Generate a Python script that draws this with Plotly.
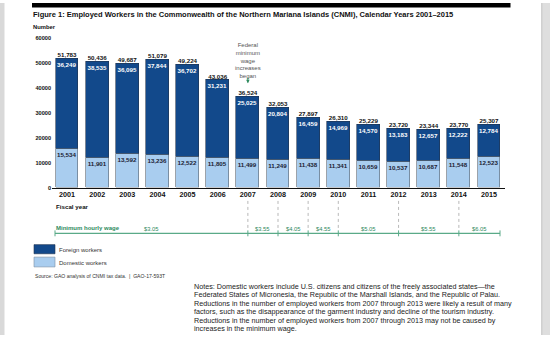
import plotly.graph_objects as go

# ---------------- data ----------------
years = [2001, 2002, 2003, 2004, 2005, 2006, 2007, 2008, 2009, 2010, 2011, 2012, 2013, 2014, 2015]
foreign = [36249, 38535, 36095, 37844, 36702, 31231, 25025, 20804, 16459, 14969, 14570, 13183, 12657, 12222, 12784]
domestic = [15534, 11901, 13592, 13236, 12522, 11805, 11499, 11249, 11438, 11341, 10659, 10537, 10687, 11548, 12523]
totals = [51783, 50436, 49687, 51079, 49224, 43036, 36524, 32053, 27897, 26310, 25229, 23720, 23344, 23770, 25307]
y_ticks = [0, 10000, 20000, 30000, 40000, 50000, 60000]
wage_change_years = [2007, 2008, 2009, 2010, 2012, 2014]
wage_labels = ["$3.05", "$3.55", "$4.05", "$4.55", "$5.05", "$5.55", "$6.05"]
increase_year = 2007

title = "Figure 1: Employed Workers in the Commonwealth of the Northern Mariana Islands (CNMI), Calendar Years 2001\u20132015"
notes_lines = [
    "Notes: Domestic workers include U.S. citizens and citizens of the freely associated states\u2014the",
    "Federated States of Micronesia, the Republic of the Marshall Islands, and the Republic of Palau.",
    "Reductions in the number of employed workers from 2007 through 2013 were likely a result of many",
    "factors, such as the disappearance of the garment industry and decline of the tourism industry.",
    "Reductions in the number of employed workers from 2007 through 2013 may not be caused by",
    "increases in the minimum wage.",
]
source_text = "Source: GAO analysis of CNMI tax data.  |  GAO-17-593T"

# ---------------- style ----------------
W, H = 550, 338
FONT = "Liberation Sans, Arial, sans-serif"
DARK = "#12498b"
LIGHT = "#a9cdef"
GREEN_TXT = "#2e8a5e"
GREEN_LINE = "#5aaa88"


def px(x):
    return x / W


def py(y):
    return 1 - y / H


X0_PX, X1_PX = 52, 505
FIRST_PX, LAST_PX = 67, 489
slope = (LAST_PX - FIRST_PX) / (years[-1] - years[0])
xr0 = years[0] - (FIRST_PX - X0_PX) / slope
xr1 = years[-1] + (X1_PX - LAST_PX) / slope
Y0_PX, Y1_PX = 188, 35.3

fig = go.Figure()
fig.add_trace(go.Bar(
    x=years, y=domestic, name="Domestic workers", width=0.76,
    marker=dict(color=LIGHT, line=dict(color="#5a6470", width=0.6)),
    text=[f"<b>{v:,}</b>" for v in domestic], textposition="inside",
    insidetextanchor="end", textangle=0, constraintext="none",
    textfont=dict(family=FONT, size=6.2, color="#1b2233"),
))
fig.add_trace(go.Bar(
    x=years, y=foreign, name="Foreign workers", width=0.76,
    marker=dict(color=DARK, line=dict(color="#22344f", width=0.6)),
    text=[f"<b>{v:,}</b>" for v in foreign], textposition="inside",
    insidetextanchor="end", textangle=0, constraintext="none",
    textfont=dict(family=FONT, size=6.2, color="white"),
))
fig.add_trace(go.Scatter(
    x=years, y=totals, mode="text",
    text=[f"<b>{v:,}</b>" for v in totals], textposition="top center",
    textfont=dict(family=FONT, size=6.2, color="#111"), cliponaxis=False,
    hoverinfo="skip",
))

ann = []
shapes = []


def text(x, y, s, size, color="#111", xanchor="left", bold=False):
    ann.append(dict(
        x=px(x), y=py(y), xref="paper", yref="paper", showarrow=False,
        text=(f"<b>{s}</b>" if bold else s), xanchor=xanchor, yanchor="middle",
        borderpad=0, font=dict(family=FONT, size=size, color=color),
    ))


# frame of the document screenshot
shapes.append(dict(type="rect", xref="paper", yref="paper", x0=0, x1=px(4.5), y0=0, y1=1,
                   fillcolor="#d9d9d9", line=dict(width=0), layer="below"))
shapes.append(dict(type="rect", xref="paper", yref="paper", x0=px(541.5), x1=1, y0=0, y1=1,
                   fillcolor="#dedede", line=dict(width=0), layer="below"))
shapes.append(dict(type="line", xref="paper", yref="paper", x0=px(541.8), x1=px(541.8), y0=0, y1=1,
                   line=dict(color="#c4c4c4", width=1)))
shapes.append(dict(type="rect", xref="paper", yref="paper", x0=px(32), x1=px(510.5), y0=py(4.7), y1=1,
                   fillcolor="black", line=dict(width=0)))

text(32, 11.5, title, 7.5, bold=True)
text(32, 24, "Number", 5.8, bold=True)
text(55, 207.3, "Fiscal year", 6.2, bold=True)

# Federal minimum wage annotation
ann.append(dict(
    x=increase_year, y=py(58.5), xref="x", yref="paper", showarrow=False,
    text="Federal<br>minimum<br>wage<br>increases<br>began", align="center",
    font=dict(family=FONT, size=6, color="#555"), yanchor="middle",
))
ann.append(dict(
    x=increase_year, y=totals[years.index(increase_year)], xref="x", yref="y",
    text="", showarrow=True, arrowhead=2, arrowsize=0.7, arrowwidth=1,
    arrowcolor=GREEN_TXT, ax=0, ay=-7, yshift=13,
))

# minimum wage timeline
TL_Y = 234.5
TL_START = years[0] + (55 - FIRST_PX) / slope
TL_END = years[0] + (500 - FIRST_PX) / slope
text(55, 229, "Minimum hourly wage", 6.0, color=GREEN_TXT, bold=True)
bounds = [TL_START] + wage_change_years + [TL_END]
shapes.append(dict(type="line", xref="x", yref="paper", x0=TL_START, x1=TL_END,
                   y0=py(TL_Y), y1=py(TL_Y), line=dict(color=GREEN_LINE, width=1.2)))
for b in bounds:
    shapes.append(dict(type="line", xref="x", yref="paper", x0=b, x1=b,
                       y0=py(231.5), y1=py(237.5), line=dict(color=GREEN_LINE, width=1)))
for b in wage_change_years:
    shapes.append(dict(type="line", xref="x", yref="paper", x0=b, x1=b,
                       y0=py(201.5), y1=py(231.5), line=dict(color="#9a9a9a", width=0.7, dash="dot")))
for i, lab in enumerate(wage_labels):
    mid = (bounds[i] + bounds[i + 1]) / 2
    ann.append(dict(x=mid, y=py(230.3), xref="x", yref="paper", showarrow=False, text=lab,
                    yanchor="middle", font=dict(family=FONT, size=5.8, color=GREEN_TXT)))

# legend
shapes.append(dict(type="rect", xref="paper", yref="paper", x0=px(34), x1=px(55), y0=py(255.3), y1=py(246),
                   fillcolor=DARK, line=dict(color="#22344f", width=0.6)))
shapes.append(dict(type="rect", xref="paper", yref="paper", x0=px(34), x1=px(55), y0=py(268.7), y1=py(258.7),
                   fillcolor=LIGHT, line=dict(color="#7d8fa3", width=0.6)))
text(58, 251.5, "Foreign workers", 6.0, color="#333")
text(58, 264.2, "Domestic workers", 6.0, color="#333")
text(34, 277.7, source_text, 5.1, color="#333")

# notes
note_y = [288.2, 296.5, 306.2, 314.5, 322.8, 331.1]
for yy, line in zip(note_y, notes_lines):
    text(193, yy, line, 7.2, color="#222")

fig.update_layout(
    width=W, height=H, margin=dict(l=0, r=0, t=0, b=0),
    paper_bgcolor="white", plot_bgcolor="white",
    barmode="stack", bargap=0, showlegend=False,
    annotations=ann, shapes=shapes,
    xaxis=dict(domain=[px(X0_PX), px(X1_PX)], range=[xr0, xr1], tickvals=years,
               ticktext=[f"<b>{y}</b>" for y in years], showgrid=False, zeroline=False,
               showline=True, linecolor="#111", linewidth=1.3, ticks="",
               tickfont=dict(family=FONT, size=7.2, color="#111"), fixedrange=True),
    yaxis=dict(domain=[py(Y0_PX), py(Y1_PX)], range=[0, 60000], tickvals=y_ticks,
               ticktext=[f"<b>{v}</b>" for v in y_ticks], showgrid=False, zeroline=False,
               showline=False, ticks="",
               tickfont=dict(family=FONT, size=5.6, color="#111"), fixedrange=True),
)

fig.write_html("out.html")
